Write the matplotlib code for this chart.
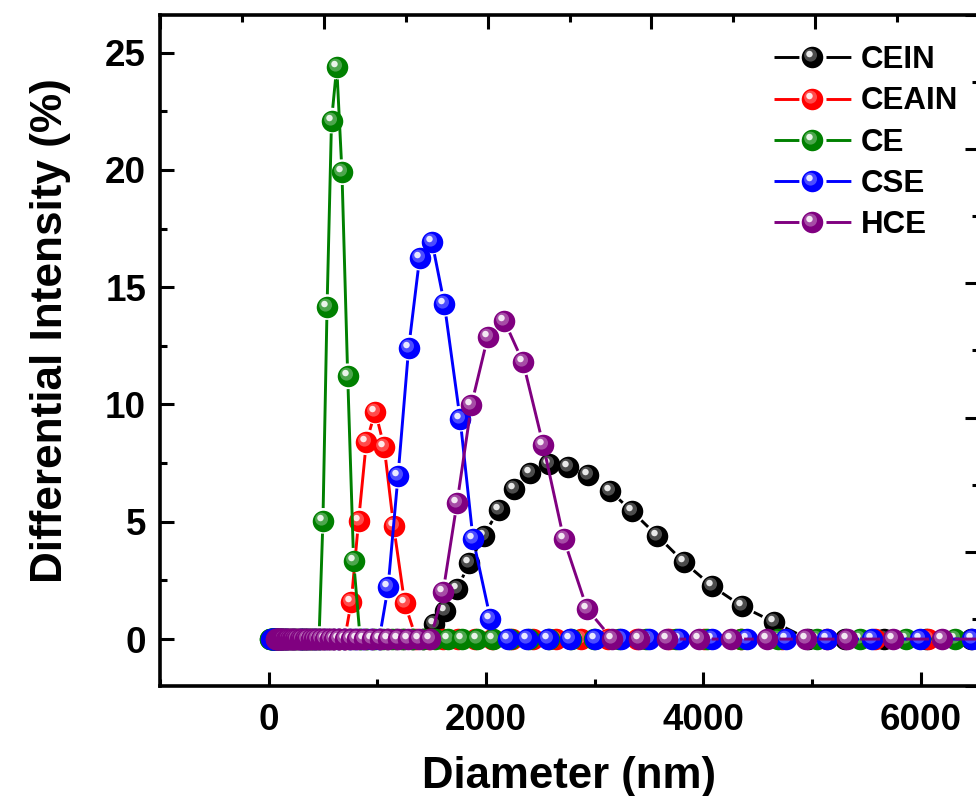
import numpy as np
import matplotlib.pyplot as plt
from matplotlib.lines import Line2D
from matplotlib.path import Path
from matplotlib.ticker import MultipleLocator
from matplotlib.legend_handler import HandlerTuple

plt.rcParams['font.family'] = 'Liberation Sans'
plt.rcParams['font.weight'] = 'bold'
plt.rcParams['lines.scale_dashes'] = False

labels = ['CEIN', 'CEAIN', 'CE', 'CSE', 'HCE']
colors = ['#000000', '#ff0000', '#008000', '#0000ff', '#800080']

# CEIN
cein_peak_x = [1518, 1625, 1733, 1846, 1978, 2116, 2261, 2408, 2577, 2752,
               2936, 3138, 3344, 3575, 3820, 4075, 4357, 4648]
cein_peak_y = [0.64, 1.18, 2.13, 3.24, 4.41, 5.51, 6.40, 7.07, 7.45, 7.35,
               7.00, 6.32, 5.44, 4.40, 3.28, 2.27, 1.39, 0.72]
cein_zero_x = [33, 38, 43, 49, 56, 64, 73, 84, 96, 109, 124, 142, 162, 185,
               211, 240, 274, 293, 313, 334, 357, 381, 407, 435, 464, 496,
               530, 566, 604, 645, 689, 736, 786, 840, 897, 958, 1023, 1093,
               1167, 1246, 1331, 1421,
               4964, 5302, 5662, 6047, 6458, 6897, 7366]

# CEAIN
ceain_peak_x = [760, 827, 898, 981, 1063, 1149, 1251]
ceain_peak_y = [1.60, 5.04, 8.39, 9.70, 8.18, 4.83, 1.53]
ceain_zero_x = [38, 45, 53, 63, 74, 88, 103, 122, 144, 170, 201, 237, 280,
                305, 331, 360, 391, 425, 462, 502, 545, 592, 644, 699,
                1359, 1477, 1605, 1744, 1895, 2059, 2237, 2431, 2642, 2870,
                3119, 3389, 3683, 4002, 4348, 4725, 5134, 5579, 6062, 6587,
                7157]

# CE
ce_peak_x = [499, 537, 578, 626, 674, 727, 781]
ce_peak_y = [5.04, 14.15, 22.10, 24.40, 19.90, 11.20, 3.34]
ce_zero_x = [13, 15, 17, 20, 23, 27, 32, 37, 43, 50, 57, 67, 77, 90, 104,
             121, 140, 163, 189, 220, 255, 296, 319, 344, 370, 399, 430, 463,
             842, 907, 977, 1053, 1134, 1222, 1317, 1419, 1529, 1647, 1775,
             1912, 2061, 2220, 2392, 2578, 2778, 2993, 3225, 3475, 3744,
             4034, 4347, 4684, 5047, 5438, 5860, 6314, 6803, 7331]

# CSE
cse_peak_x = [1098, 1190, 1288, 1389, 1502, 1616, 1761, 1880, 2040]
cse_peak_y = [2.20, 6.96, 12.42, 16.26, 16.94, 14.29, 9.39, 4.27, 0.86]
cse_zero_x = [24, 27, 32, 37, 43, 51, 59, 69, 80, 93, 109, 127, 148, 173,
              202, 235, 275, 297, 320, 346, 374, 404, 436, 471, 509, 549,
              593, 641, 692, 748, 807, 872, 942, 1017,
              2203, 2380, 2570, 2776, 2998, 3238, 3497, 3777, 4079, 4405,
              4758, 5138, 5549, 5993, 6473, 6990]

# HCE
hce_peak_x = [1604, 1733, 1865, 2015, 2168, 2341, 2525, 2715, 2930]
hce_peak_y = [2.00, 5.82, 9.98, 12.87, 13.56, 11.79, 8.28, 4.26, 1.28]
hce_zero_x = [63, 68, 74, 79, 86, 92, 100, 107, 116, 125, 134, 145, 156,
              168, 181, 196, 211, 227, 245, 264, 285, 307, 331, 357, 385,
              415, 447, 482, 520, 560, 604, 651, 702, 757, 816, 880, 948,
              1022, 1102, 1188, 1280, 1380, 1488,
              3160, 3405, 3667, 3958, 4256, 4581, 4940, 5324, 5744, 6192,
              6675, 7195]

series = [
    (cein_peak_x, cein_peak_y, cein_zero_x),
    (ceain_peak_x, ceain_peak_y, ceain_zero_x),
    (ce_peak_x, ce_peak_y, ce_zero_x),
    (cse_peak_x, cse_peak_y, cse_zero_x),
    (hce_peak_x, hce_peak_y, hce_zero_x),
]


def spot_path(cx, cy, r):
    # off-centre disc used as the shine on the ball markers;
    # the lone first vertex pins the marker scale to the 'o' marker
    circ = Path.unit_circle()
    verts = np.vstack([[0.5, 0.5], circ.vertices * r + [cx, cy]])
    codes = np.concatenate([[Path.MOVETO], circ.codes])
    return Path(verts, codes)


def gapped_line(ax, x, y, trim):
    # Origin style "gap to symbol": cut each segment short near the markers
    pts = ax.transData.transform(np.column_stack([x, y]))
    out = []
    for p0, p1 in zip(pts[:-1], pts[1:]):
        d = p1 - p0
        L = np.hypot(d[0], d[1])
        if L <= 2 * trim:
            continue
        u = d / L
        out += [p0 + u * trim, p1 - u * trim, [np.nan, np.nan]]
    if not out:
        return np.array([]), np.array([])
    out = np.array(out)
    good = ~np.isnan(out[:, 0])
    res = np.full_like(out, np.nan)
    res[good] = ax.transData.inverted().transform(out[good])
    return res[:, 0], res[:, 1]


glow = spot_path(-0.09, 0.11, 0.30)
shine = spot_path(-0.14, 0.16, 0.15)
GLOW_C = (1, 1, 1, 0.30)
SHINE_C = (1, 1, 1, 0.88)

MS = 15.5
LW = 2.1
DPI = 100
trim = MS * DPI / 72 / 2 + 3.5

fig = plt.figure(figsize=(9.76, 7.96), dpi=DPI)
rect = [160 / 976, 1 - 686 / 796, 819 / 976, 671 / 796]
ax = fig.add_axes(rect)
ax.set_xlim(-1000, 6535)
ax.set_ylim(-2, 26.6)

leg_fs = 22.5
hl = 2.46 * leg_fs
handles = []
for (px, py, zx), lab, col in zip(series, labels, colors):
    x = np.array(px + zx, dtype=float)
    y = np.array(py + [0.0] * len(zx), dtype=float)
    order = np.argsort(x)
    x, y = x[order], y[order]
    gx, gy = gapped_line(ax, x, y, trim)
    ax.plot(gx, gy, '-', color=col, lw=LW)
    # each ball is drawn whole (body + shine) before the next one
    for xi, yi in zip(x, y):
        ax.plot([xi], [yi], ls='none', marker='o', ms=MS, mfc=col, mec='none')
        ax.plot([xi], [yi], ls='none', marker=glow, ms=MS, mfc=GLOW_C,
                mec='none')
        ax.plot([xi], [yi], ls='none', marker=shine, ms=MS, mfc=SHINE_C,
                mec='none')

    # legend proxy: line broken around the ball
    off = MS + 4.0
    on = (hl - off) / 2
    h_line = Line2D([], [], color=col, lw=LW, ls=(0, (on, off, on, 300)))
    h_ball = Line2D([], [], ls='none', marker='o', ms=MS, mfc=col, mec='none')
    h_glow = Line2D([], [], ls='none', marker=glow, ms=MS, mfc=GLOW_C,
                    mec='none')
    h_shine = Line2D([], [], ls='none', marker=shine, ms=MS, mfc=SHINE_C,
                     mec='none')
    handles.append((h_line, h_ball, h_glow, h_shine))

ax.xaxis.set_major_locator(MultipleLocator(2000))
ax.xaxis.set_minor_locator(MultipleLocator(1000))
ax.yaxis.set_major_locator(MultipleLocator(5))
ax.yaxis.set_minor_locator(MultipleLocator(2.5))
ax.tick_params(which='both', direction='in', top=False, right=False,
               width=2.2, labelsize=26.5)
ax.tick_params(which='major', length=10)
ax.tick_params(which='minor', length=5)
ax.tick_params(axis='x', pad=12)
ax.tick_params(axis='y', pad=10)
for sp in ax.spines.values():
    sp.set_linewidth(2.6)

ax.set_xlabel('Diameter (nm)', fontsize=31.5, fontweight='bold')
ax.set_ylabel('Differential Intensity (%)', fontsize=31.8, fontweight='bold')
ax.xaxis.set_label_coords(0.5, -0.104)
ax.yaxis.set_label_coords(-0.109, 0.53)

ax.legend(handles, labels,
          handler_map={tuple: HandlerTuple(ndivide=1, pad=0)},
          loc='upper left', bbox_to_anchor=(0.7497, 0.955), frameon=False,
          fontsize=leg_fs, handlelength=2.46, handletextpad=0.32,
          labelspacing=0.36, borderpad=0, borderaxespad=0)

# second layer frame: only its top and right ticks show
ax2 = fig.add_axes(rect)
ax2.patch.set_visible(False)
for sp in ax2.spines.values():
    sp.set_visible(False)
ax2.set_xlim(0, 5)
ax2.set_ylim(0, 5)
ax2.xaxis.set_major_locator(MultipleLocator(1))
ax2.xaxis.set_minor_locator(MultipleLocator(0.5))
ax2.yaxis.set_major_locator(MultipleLocator(1))
ax2.yaxis.set_minor_locator(MultipleLocator(0.5))
ax2.tick_params(which='both', direction='in', bottom=False, left=False,
                top=True, right=True, labelbottom=False, labelleft=False,
                labeltop=False, labelright=False, width=2.2)
ax2.tick_params(which='major', length=10)
ax2.tick_params(which='minor', length=5)

fig.savefig('out.png', dpi=DPI)
